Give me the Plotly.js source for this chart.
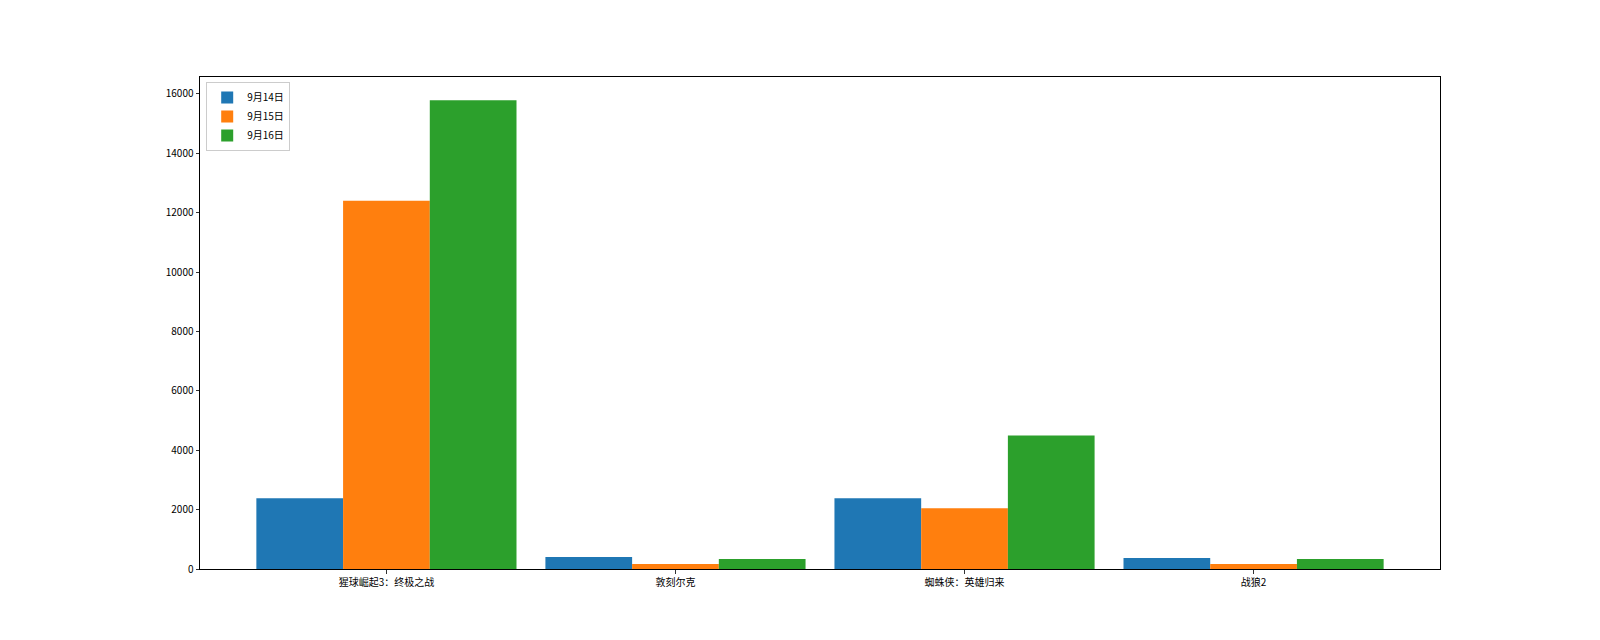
<!DOCTYPE html>
<html>
<head>
<meta charset="utf-8">
<script src="https://cdn.plot.ly/plotly-3.0.1.min.js"></script>
<style>html,body{margin:0;padding:0;background:#fff;}#chart{width:1600px;height:640px;}</style>
</head>
<body>
<div id="chart"></div>
<script>
const movies = ["猩球崛起3：终极之战", "敦刻尔克", "蜘蛛侠：英雄归来", "战狼2"];
const seriesNames = ["9月14日", "9月15日", "9月16日"];
const day14 = [2385, 403, 2385, 370];
const day15 = [12400, 168, 2050, 168];
const day16 = [15790, 336, 4500, 336];
const colors = ["#1f77b4", "#ff7f0e", "#2ca02c"];

const xIdx = movies.map((_, i) => i);
const allSeries = [day14, day15, day16];
const traces = allSeries.map((vals, k) => ({
  type: "bar",
  name: seriesNames[k],
  x: xIdx,
  y: vals,
  marker: {color: colors[k], line: {width: 0}},
  hoverinfo: "y"
}));

const font = {family: "Noto Sans CJK SC, DejaVu Sans, sans-serif", size: 10, color: "#000"};
const layout = {
  width: 1600, height: 640,
  margin: {l: 200, r: 160, t: 77, b: 71, pad: 0},
  paper_bgcolor: "#fff", plot_bgcolor: "#fff",
  barmode: "group", bargap: 0.1, bargroupgap: 0,
  font: font,
  showlegend: true,
  legend: {
    x: 0.005, y: 0.99, xanchor: "left", yanchor: "top",
    bgcolor: "rgba(255,255,255,0.8)", bordercolor: "#cccccc", borderwidth: 1,
    font: font, tracegroupgap: 0, itemwidth: 30
  },
  xaxis: {
    range: [-0.645, 3.645],
    tickmode: "array", tickvals: xIdx, ticktext: movies,
    showgrid: false, zeroline: false,
    showline: true, linecolor: "#000", linewidth: 1, mirror: true,
    ticks: "outside", ticklen: 3.5, tickcolor: "#000", tickwidth: 0.8,
    tickfont: font
  },
  yaxis: {
    range: [0, 16572],
    tickmode: "array", tickvals: [0, 2000, 4000, 6000, 8000, 10000, 12000, 14000, 16000],
    ticktext: ["0", "2000", "4000", "6000", "8000", "10000", "12000", "14000", "16000"],
    showgrid: false, zeroline: false,
    showline: true, linecolor: "#000", linewidth: 1, mirror: true,
    ticks: "outside", ticklen: 3.5, tickcolor: "#000", tickwidth: 0.8,
    tickfont: font
  }
};
Plotly.newPlot("chart", traces, layout, {displayModeBar: false, staticPlot: true});
</script>
</body>
</html>
